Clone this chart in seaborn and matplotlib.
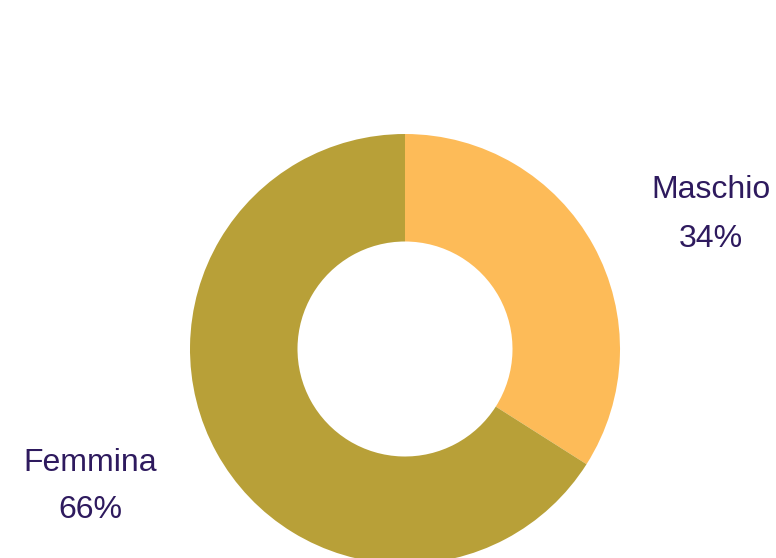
import matplotlib
matplotlib.use("Agg")
import matplotlib.pyplot as plt
import seaborn as sns

sns.set_theme(style="white")
plt.rcParams['font.family'] = ['Liberation Sans', 'DejaVu Sans']

categories = ["Maschio", "Femmina"]
values = [34, 66]
colors = ["#FDBB58", "#B8A038"]
text_color = "#2E1A5E"

fig = plt.figure(figsize=(7.76, 5.58), dpi=100)
ax = fig.add_axes([190/776, -6/558, 430/776, 430/558])
ax.pie(values, colors=colors, startangle=90, counterclock=False,
       radius=1.0, wedgeprops=dict(width=0.5, edgecolor="none"))
ax.set_xlim(-1, 1)
ax.set_ylim(-1, 1)
ax.set_aspect("equal")
ax.axis("off")

label_pos = [(1.423, 0.702, 0.474), (-1.463, -0.567, -0.786)]
for cat, v, (x, y1, y2) in zip(categories, values, label_pos):
    ax.text(x, y1, cat, ha="center", va="baseline", fontsize=23,
            color=text_color, clip_on=False)
    ax.text(x, y2, f"{v}%", ha="center", va="baseline", fontsize=23,
            color=text_color, clip_on=False)

fig.savefig("out.png", dpi=100)
